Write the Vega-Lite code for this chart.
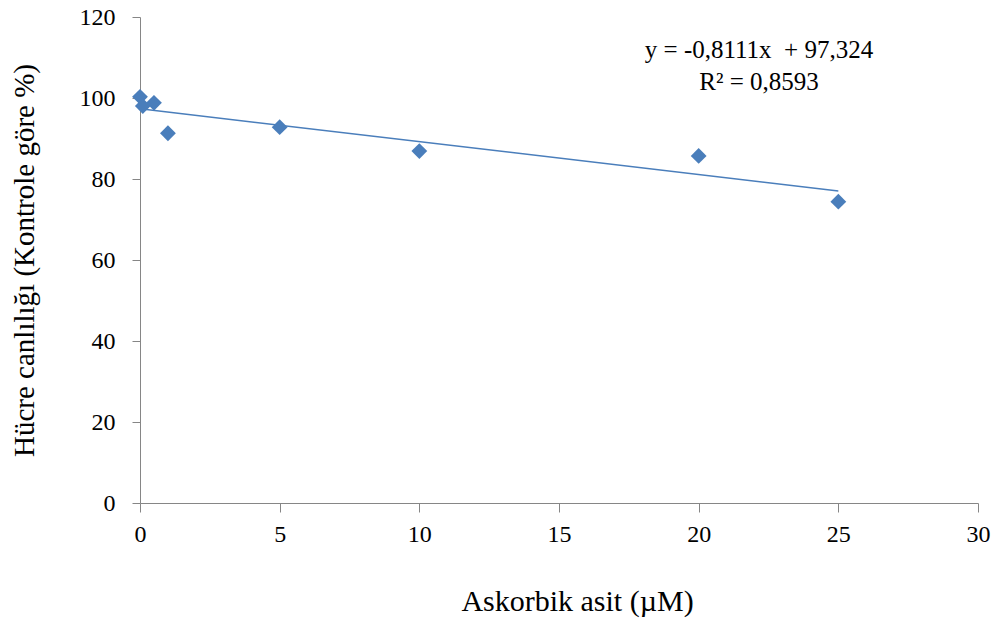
{
  "$schema": "https://vega.github.io/schema/vega-lite/v6.json",
  "width": 838,
  "height": 486,
  "autosize": {"type": "none"},
  "padding": {"left": 140, "top": 17, "right": 19, "bottom": 116},
  "background": "white",
  "config": {
    "view": {"stroke": null},
    "font": "Liberation Serif"
  },
  "datasets": {
    "points": [
      {"x": 0, "y": 100.3},
      {"x": 0.1, "y": 98.0},
      {"x": 0.5, "y": 98.8},
      {"x": 1, "y": 91.3},
      {"x": 5, "y": 92.8},
      {"x": 10, "y": 86.9},
      {"x": 20, "y": 85.7},
      {"x": 25, "y": 74.4}
    ],
    "trend": [
      {"x": 0, "y": 97.324},
      {"x": 25, "y": 77.0465}
    ],
    "labels": [
      {"x": 22.16, "y": 111.85, "t": "y = -0,8111x\u00a0 + 97,324"},
      {"x": 22.16, "y": 103.95, "t": "R² = 0,8593"}
    ]
  },
  "layer": [
    {
      "data": {"name": "trend"},
      "mark": {"type": "line", "color": "#4A7EBB", "strokeWidth": 1.5},
      "encoding": {
        "x": {
          "field": "x", "type": "quantitative",
          "scale": {"domain": [0, 30], "nice": false, "zero": false},
          "axis": {
            "values": [0, 5, 10, 15, 20, 25, 30],
            "title": "Askorbik asit (µM)",
            "titleFont": "Liberation Serif", "titleFontSize": 30, "titleFontWeight": "normal", "titleColor": "#000000",
            "titlePadding": 40,
            "titleX": 437,
            "titleAlign": "center",
            "labelFont": "Liberation Serif", "labelFontSize": 24, "labelColor": "#000000", "labelPadding": 10,
            "domainColor": "#868686", "tickColor": "#868686", "tickSize": 9, "grid": false,
            "labelFlush": false
          }
        },
        "y": {
          "field": "y", "type": "quantitative",
          "scale": {"domain": [0, 120], "nice": false},
          "axis": {
            "values": [0, 20, 40, 60, 80, 100, 120],
            "title": "Hücre canlılığı (Kontrole göre %)",
            "titleFont": "Liberation Serif", "titleFontSize": 29, "titleFontWeight": "normal", "titleColor": "#000000",
            "titlePadding": 40,
            "labelFont": "Liberation Serif", "labelFontSize": 24, "labelColor": "#000000", "labelPadding": 17,
            "domainColor": "#868686", "tickColor": "#868686", "tickSize": 8, "grid": false
          }
        }
      }
    },
    {
      "data": {"name": "points"},
      "mark": {"type": "point", "shape": "diamond", "filled": true, "color": "#4A7EBB", "size": 250, "opacity": 1},
      "encoding": {
        "x": {"field": "x", "type": "quantitative"},
        "y": {"field": "y", "type": "quantitative"}
      }
    },
    {
      "data": {"name": "labels"},
      "mark": {"type": "text", "font": "Liberation Serif", "fontSize": 25, "color": "#000000", "align": "center", "baseline": "middle"},
      "encoding": {
        "x": {"field": "x", "type": "quantitative"},
        "y": {"field": "y", "type": "quantitative"},
        "text": {"field": "t"}
      }
    }
  ]
}
